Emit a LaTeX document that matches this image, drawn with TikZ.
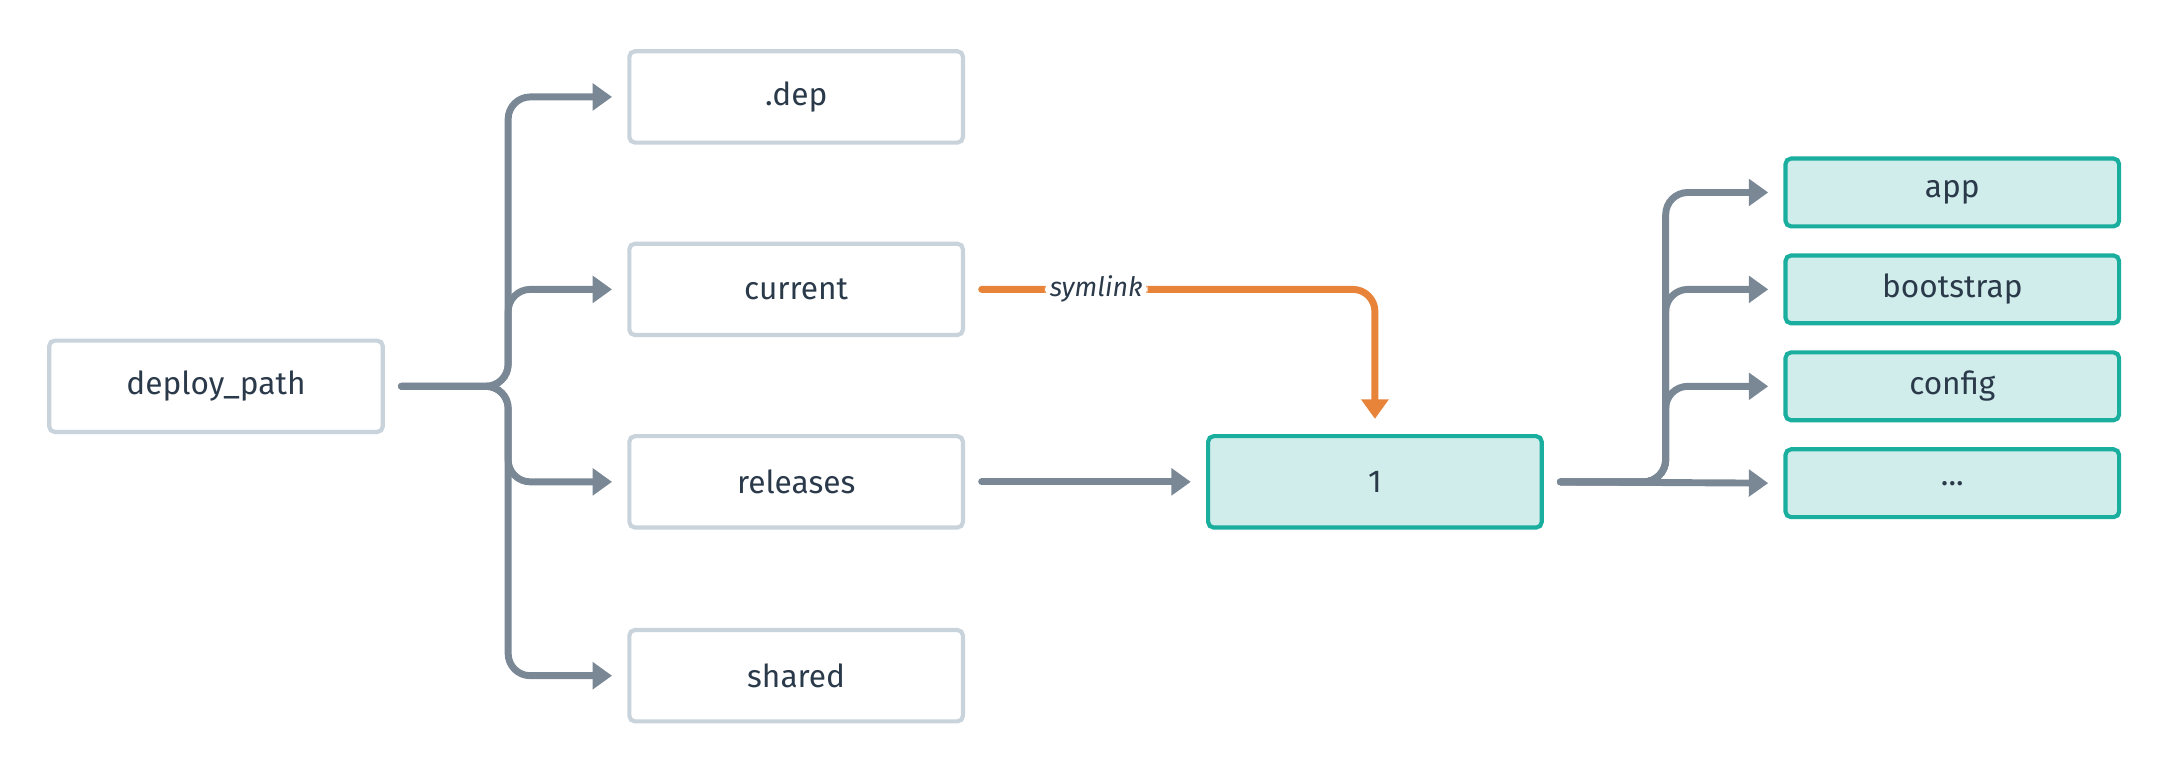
\documentclass[tikz,border=0pt]{standalone}
\usepackage{fontspec}
\setmainfont{Fira Sans}
\usetikzlibrary{arrows.meta,positioning}
\definecolor{boxline}{HTML}{C9D3DC}
\definecolor{wire}{HTML}{7A8896}
\definecolor{tealline}{HTML}{1AAE9F}
\definecolor{tealfill}{HTML}{D0EDEB}
\definecolor{linkcol}{HTML}{E8833A}
\definecolor{txt}{HTML}{2B3A4A}
\tikzset{
  dir/.style={draw=boxline, line width=0.06cm, rounded corners=0.08cm, fill=white,
    minimum width=4.82cm, minimum height=1.32cm, text=txt, font=\fontsize{13}{15}\selectfont},
  rel/.style={dir, draw=tealline, fill=tealfill},
  sub/.style={rel, minimum height=0.98cm},
  branch/.style={draw=wire, line width=0.1cm, line cap=round, rounded corners=0.32cm,
    -{Triangle[length=0.28cm,width=0.38cm]}, shorten <=0.24cm, shorten >=0.22cm},
  link/.style={branch, draw=linkcol, fill=linkcol},
}
\begin{document}
\begin{tikzpicture}[x=0.02cm,y=-0.02cm]
\useasboundingbox (0,0) rectangle (1560,555);

\node[dir] (dp) at (156,279) {deploy\_path};
\node[dir] (dep) at (575,70) {.dep};
\node[dir] (cur) at (575,209) {current};
\node[dir] (rels) at (575,348) {releases};
\node[dir] (shr) at (575,488) {shared};

\node[rel] (one) at (993,348) {1};

\node[sub] (app) at (1410,139) {app};
\node[sub] (boot) at (1410,209) {bootstrap};
\node[sub] (conf) at (1410,279) {config};
\node[sub] (more) at (1410,349) {...};

% left tree
\coordinate (lt) at (367,279);
\foreach \n in {dep,cur,rels,shr}
  \draw[branch] (dp.east) -- (lt) |- (\n.west);

\draw[branch] (rels.east) -- (one.west);

% symlink
\draw[link, fill=none] (cur.east) -| node[pos=0.16, fill=white, inner sep=2pt, text=txt,
  font=\itshape\fontsize{11}{13}\selectfont] {symlink} (one.north);

% right tree
\coordinate (rt) at (1203,348);
\foreach \n in {app,boot,conf}
  \draw[branch] (one.east) -- (rt) |- (\n.west);
\draw[branch] (one.east) -- (more.west);
\end{tikzpicture}
\end{document}
